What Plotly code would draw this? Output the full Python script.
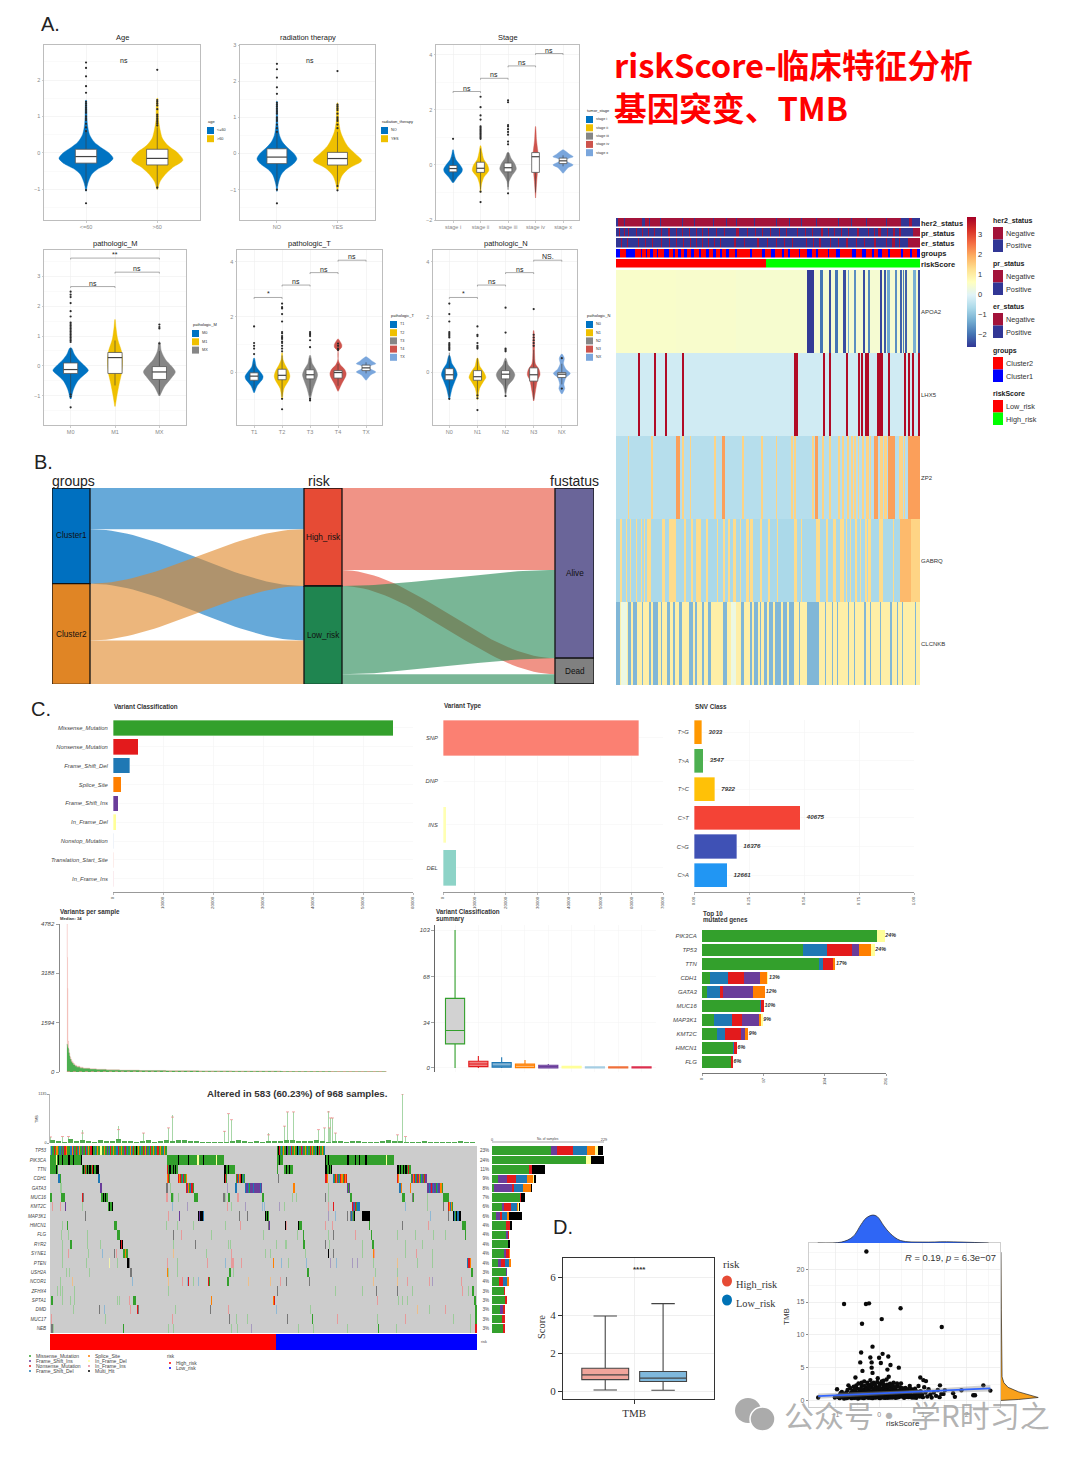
import plotly.graph_objects as go

W, H = 1080, 1457
SANS = "Liberation Sans"
SERIF = "Liberation Serif"
CJK = "Noto Sans CJK SC"
JCO = ["#0073C2", "#EFC000", "#868686", "#CD534C", "#7AA6DC"]

# ---------- panel A data: (label, y grid, density, half width, q1, med, q3, low, high, outliers)
BOWTIE_Y = [-.3, -.1, 0, .1, .15, .22, .3, .4, .55]
BOWTIE_D = [.03, .5, 1, .5, .3, .4, 1, .6, .05]
AGE = [
    ("<=60", [-1.05,-.85,-.6,-.45,-.3,-.15,0,.15,.3,.5,.8,1.2,1.45], [.01,.06,.2,.42,.8,1,.85,.55,.3,.13,.05,.03,.01], .38, -.28,-.1,.1,-.9,.6,
     [2.48,2.33,2.1,1.83,1.65,1.4,1.35,1.3,1.25,1.2,1.15,1.1,1.0,.95,.9,.8,.7,.6,-1.02,-1.38]),
    (">60", [-1,-.8,-.6,-.4,-.2,0,.2,.4,.6,.9,1.2,1.5], [.02,.1,.3,.6,1,.8,.42,.2,.12,.05,.04,.01], .36, -.33,-.15,.1,-1,.7,
     [2.28,1.45,1.4,1.35,1.3,1.2,1.05,1,.95,.9,.85,.8,.75,-.95]),
]
RADIATION = [
    ("NO", [-1.05,-.85,-.6,-.45,-.3,-.15,0,.15,.3,.5,.8,1.2,1.45], [.01,.06,.2,.42,.8,1,.85,.55,.3,.13,.05,.03,.01], .33, -.28,-.1,.13,-.9,.6,
     [2.48,2.33,2.1,1.83,1.65,1.4,1.35,1.3,1.25,1.2,1.15,1.1,1.0,.95,.9,.8,.7,.6,-1.0,-1.38]),
    ("YES", [-1,-.8,-.6,-.4,-.2,0,.2,.4,.6,.9,1.2,1.4], [.02,.08,.2,.5,1,.72,.42,.25,.13,.05,.04,.01], .4, -.32,-.14,.03,-.9,.6,
     [2.28,1.35,1.3,1.25,1.2,1.1,1.0,.95,.9,.8,.7,-.9,-1.02]),
]
STAGE = [
    ("stage i", [-.65,-.45,-.25,-.15,0,.2,.4,.55], [.05,.45,.95,1,.75,.3,.12,.03], .34, -.25,-.13,-.02,-.6,.3, [.95]),
    ("stage ii", [-1,-.7,-.45,-.2,0,.2,.5,.7], [.03,.12,.4,1,.85,.4,.15,.03], .3, -.27,-.12,.1,-.9,.6,
     [2.48,2.1,1.8,1.65,1.4,1.35,1.3,1.25,1.2,1.15,1.1,1.05,1,.95,-.97,-1.35]),
    ("stage iii", [-.9,-.6,-.4,-.15,.05,.25,.45], [.03,.12,.45,1,.8,.35,.08], .3, -.25,-.1,.07,-.8,.45,
     [2.35,2.28,1.45,1.4,1.3,1.2,1.1,.85,.75,-1.03]),
    ("stage iv", [-1.2,-.6,0,.2,.5,.9,1.4], [.02,.35,.8,1,.7,.3,.02], .12, -.27,.3,.45,-1,.45, []),
    ("stage x", BOWTIE_Y, BOWTIE_D, .37, .05,.15,.25,-.05,.35, []),
]
PATH_M = [
    ("M0", [-1.1,-.8,-.5,-.3,-.15,0,.2,.4,.6], [.03,.15,.4,.75,1,.8,.45,.2,.05], .4, -.25,-.12,.1,-.9,.6,
     [2.48,2.38,2.3,2.1,1.83,1.65,1.45,1.4,1.35,1.3,1.25,1.2,1.15,1.1,1.05,1,.95,.9,.85,.8,-.95,-1.02,-1.38]),
    ("M1", [-1.35,-1,-.6,-.2,.2,.5,.9,1.3,1.55], [.03,.25,.55,.9,1,.85,.35,.12,.02], .17, -.25,.28,.45,-.65,.85, []),
    ("MX", [-1,-.7,-.4,-.2,0,.2,.5,.8], [.03,.3,.75,1,.75,.4,.12,.03], .36, -.45,-.2,-.02,-.95,.5, [1.38,1.3,1.25,.75]),
]
PATH_T = [
    ("T1", [-.75,-.5,-.25,-.15,0,.2,.5], [.04,.35,.95,1,.7,.25,.04], .32, -.3,-.15,-.03,-.65,.3, [1.65,1.05,.95,.85,.65]),
    ("T2", [-1,-.6,-.3,-.15,.05,.25,.45,.7], [.03,.25,.85,1,.8,.4,.12,.02], .28, -.28,-.12,.1,-.9,.6,
     [2.48,2.35,2.3,2.1,1.83,1.45,1.4,1.3,1.25,1.2,1.1,1.05,.95,.85,.75,-.97,-1.35]),
    ("T3", [-1,-.6,-.3,-.1,.1,.3,.6], [.04,.4,.8,1,.75,.3,.05], .27, -.25,-.1,.08,-.85,.5, [1.45,1.4,1.35,1.3,1.15,.9,-.97,-1.03]),
    ("T4", [-.7,-.4,-.15,-.05,.1,.25,.45,.75,.9,1,1.2], [.03,.5,.95,1,.8,.3,.02,.02,.45,.45,.02], .29, -.22,-.02,.05,-.5,.3, [1.03,.95,.85,.8]),
    ("TX", BOWTIE_Y, BOWTIE_D, .35, .05,.15,.25,-.05,.35, []),
]
PATH_N = [
    ("N0", [-1,-.6,-.3,-.1,.1,.3,.6], [.04,.35,.75,1,.8,.35,.06], .28, -.28,-.1,.12,-.9,.7,
     [2.48,2.1,1.83,1.45,1.4,1.35,1.3,1.25,1.05,1,.95,.9,.85,.8,-.97]),
    ("N1", [-1,-.6,-.35,-.2,0,.2,.5], [.04,.25,.7,1,.75,.3,.05], .3, -.3,-.17,.05,-.8,.5,
     [1.65,1.35,1.3,1.05,.95,.9,.85,-.85,-.95,-1.38]),
    ("N2", [-.85,-.5,-.25,-.1,.05,.25,.5], [.03,.25,.85,1,.8,.3,.03], .33, -.25,-.08,.05,-.75,.4, [2.33,1.43,.85,.8,.75,-.87]),
    ("N3", [-1.05,-.7,-.3,-.1,.1,.3,.7,1,1.5], [.03,.25,.55,.9,.75,.25,.12,.12,.02], .25, -.33,-.1,.15,-1,.8, [2.28,1.35,1.25,1.15,1.05,.95]),
    ("NX", [-.8,-.6,-.45,-.2,-.05,.1,.3,.5,.65], [.03,.35,.25,.5,1,.5,.2,.3,.03], .3, -.2,-.08,-.02,-.45,.3, [.5,-.6]),
]

# ---------- panel B data
FLOWS_LEFT = [("Cluster1","High_risk",41.3), ("Cluster1","Low_risk",54.7), ("Cluster2","High_risk",57), ("Cluster2","Low_risk",44)]
FLOWS_RIGHT = [("High_risk","Alive",82.3), ("High_risk","Dead",16), ("Low_risk","Alive",88.4), ("Low_risk","Dead",9.9)]
NODE_COLORS = {"Cluster1":"#0070C0","Cluster2":"#E08525","High_risk":"#E64B35","Low_risk":"#1F8550","Alive":"#6A6599","Dead":"#808080"}

# ---------- heatmap data: (first column, last column, z)
N_HEAT = 304
GENES = ["APOA2","LHX5","ZP2","GABRQ","CLCNKB"]
APOA2_BASE = [(0,60,.48),(60,120,.45),(120,190,.42),(190,304,.38)]
APOA2_STRIPES = [(191,198,-2.6),(204,207,-2),(213,215,-2.4),(219,222,-2),(227,230,-2.4),(232,233,-1.4),(238,240,-1.7),
                 (247,249,-2.4),(252,254,-1.8),(264,266,-2.5),(268,270,-2.3),(271,274,-1.4),(279,281,-1.7),(284,286,-2.2),
                 (287,288,-1.9),(289,291,-2.2),(297,300,-1.3),(302,304,-2.4)]
LHX5_STRIPES = [22,38,49,66,178,180,207,213,230,242,245,249,251,261,263,265,272,288,292,296,302]
ZP2_THIN = [(12,13),(35,37),(66,68),(74,75),(98,100),(126,128),(145,147),(160,161),(175,177),(178,180),(196,198),(206,208),(213,215),
            (222,224),(226,228),(231,233),(235,237),(238,240),(242,243),(246,248),(250,253),(254,255),(264,267),(268,271),(283,287),(288,289)]
ZP2_STRONG = [(60,64),(106,109),(199,202),(258,262),(272,279),(292,304)]
GABRQ_THIN = [(4,6),(10,11),(14,15),(20,21),(25,26),(28,29),(31,35),(46,49),(53,60),(68,70),(75,77),(80,85),(90,92),(101,102),(107,109),
              (112,114),(117,120),(124,125),(130,133),(134,137),(144,146),(152,154),(161,162),(178,181),(185,186),(200,204),(210,212),(217,220),
              (224,228),(230,231),(234,235),(239,241),(244,245),(249,251),(252,255),(263,267),(277,278)]
GABRQ_STRONG = [(284,295)]
GABRQ_PALE = [(295,304)]
CLCNKB_BLUE = [(0,4),(12,15),(17,21),(26,27),(33,35),(37,42),(45,46),(51,54),(57,59),(63,66),(73,77),(79,81),(86,88),(92,95),(107,111),(125,128),
               (134,136),(138,142),(144,145),(148,151),(153,157),(159,165),(167,171),(173,178),(183,184),(191,203),(209,210),(216,217),(221,222),
               (232,233),(238,239),(248,250),(254,255),(264,265),(274,276),(281,282),(286,287),(299,300)]
CLCNKB_PALE = [(5,11),(115,120)]
HER2_POS = [(0,2),(8,9),(26,29),(33,34),(44,45),(66,67),(78,79),(97,98),(110,111),(120,121),(138,139),(160,161),(173,174),(185,186),(200,201),(222,223),(235,236),(250,251),(270,271),(285,293),(296,304)]
PR_NEG = [(3,4),(8,9),(12,13),(20,21),(26,27),(32,33),(38,39),(45,46),(52,54),(60,61),(66,67),(73,74),(80,81),(86,87),(92,93),(100,101),(108,109),(120,123),(131,132),(139,140),(146,147),(154,155),(163,164),(170,171),(181,182),(189,190),(196,197),
          (205,207),(212,213),(218,219),(225,226),(232,233),(241,243),(252,253),(258,259),(262,265),(271,272),(277,279),(283,285),(297,304)]
ER_NEG = [(5,6),(11,12),(22,23),(29,30),(36,37),(45,46),(53,54),(60,61),(67,68),(74,75),(80,81),(86,87),(92,93),(98,99),(104,105),(118,120),(128,129),(141,143),(151,152),(160,161),(168,169),(176,177),(190,191),(197,198),(203,205),(214,215),
          (222,223),(230,232),(240,241),(248,249),(258,260),(270,271),(276,279),(283,284),(292,304)]
GROUP_C1 = [(0,4),(10,19),(25,26),(30,31),(34,37),(41,42),(48,53),(57,59),(62,65),(68,71),(75,78),(83,85),(90,93),(97,100),(104,106),(110,113),(119,121),
            (134,136),(146,149),(155,159),(166,168),(172,174),(183,184),(191,196),(200,202),(212,213),(220,224),(236,240),(246,250),(256,258),(262,266),(272,274),(285,287),(294,296),(301,304)]
RISK_SPLIT = 150
TRACK_NAMES = ["her2_status","pr_status","er_status","groups","riskScore"]

# ---------- panel C data
VC_NAMES = ["Missense_Mutation","Nonsense_Mutation","Frame_Shift_Del","Splice_Site","Frame_Shift_Ins","In_Frame_Del","Nonstop_Mutation","Translation_Start_Site","In_Frame_Ins"]
VC_VALUES = [56000,5000,3300,1600,1000,600,150,150,120]
VC_COLORS = ["#33A02C","#E31A1C","#1F78B4","#FF7F00","#6A3D9A","#FFFF99","#D9E4F2","#F7D5CF","#F5D3DA"]
VT_NAMES = ["SNP","DNP","INS","DEL"]
VT_VALUES = [62300,40,1100,4200]
VT_COLORS = ["#FB8072","#BEBADA","#FFFFB3","#8DD3C7"]
SNV_NAMES = ["T>G","T>A","T>C","C>T","C>G","C>A"]
SNV_COUNTS = [3033,3547,7922,40675,16376,12661]
SNV_FRACTION = [.036,.042,.094,.483,.194,.150]
SNV_COLORS = ["#FF9800","#4CAF50","#FFC107","#F44336","#3F51B5","#2196F3"]
SAMPLE_RANK = [1,2,3,4,6,8,10,13,16,20,25,30,40,50,70,90,120,160,220,300,400,500,650,800,968]
SAMPLE_TOTAL = [4782,3700,2700,1000,720,600,480,400,330,270,220,190,155,130,105,90,75,62,50,42,34,28,20,14,6]
SAMPLE_MISSENSE = [900,860,800,760,620,520,410,330,280,225,185,155,125,105,85,72,60,50,40,33,27,22,16,11,4]
SUMMARY_CLASSES = VC_NAMES
SUMMARY_Q1 = [18,1,.5,.3,0,0,0,0,0]
SUMMARY_MED = [28,3,1.5,2,1,.5,.3,.3,.3]
SUMMARY_Q3 = [52,5,4,3,2,1.2,.8,.8,.8]
SUMMARY_LOW = [0,0,0,0,0,0,0,0,0]
SUMMARY_HIGH = [103,9,8,6,3,1.2,.8,.8,.8]
SUMMARY_COLORS = ["#33A02C","#E31A1C","#1F78B4","#FF7F00","#6A3D9A","#FFFF99","#A6CEE3","#F0703A","#DC2F4E"]
CLASS_COLORS = {"G":"#33A02C","P":"#6A3D9A","R":"#E31A1C","B":"#1F78B4","O":"#FF7F00","Y":"#FFFF99","K":"#000000"}
TOP_GENES = ["PIK3CA","TP53","TTN","CDH1","GATA3","MUC16","MAP3K1","KMT2C","HMCN1","FLG"]
TOP_PCT = ["24%","24%","17%","13%","12%","10%","9%","9%","6%","6%"]
TOP_G = [277,160,185,13,8,91,19,23,49,46]
TOP_B = [0,38,7,28,21,2,28,14,1,0]
TOP_R = [0,39,15,26,4,5,16,24,5,3]
TOP_P = [0,12,0,24,48,0,27,7,0,0]
TOP_O = [0,19,4,12,19,0,4,4,0,0]
TOP_Y = [12,5,0,2,0,0,2,1,0,0]

# ---------- oncoplot data
ONCO_GENES = ["TP53","PIK3CA","TTN","CDH1","GATA3","MUC16","KMT2C","MAP3K1","HMCN1","FLG","RYR2","SYNE1","PTEN","USH2A","NCOR1","ZFHX4","SPTA1","DMD","MUC17","NEB"]
ONCO_PCT = ["23%","24%","11%","9%","8%","7%","6%","6%","4%","4%","4%","4%","4%","3%","4%","3%","3%","3%","3%","3%"]
ONCO_TOTAL_COLS = 427
ONCO_RISK_SPLIT = 226
TP53_RUNS = [(0,"gBGGRGOOGBBGPGRROGGGBBOPGGRGBOGGPGGRBGOGRRKGGBGOGGYYGGOGGPGBRGGOGGBBRGGOGGPRGBGGOBGRGGKGOGBGGRGOPGGBRGGOGBGRRGOGGBOGG"),
             (227,"GKRGBGOGGKPGGBRGGOGGKBGGRPGGOGBGGRGOGGBGKGRGGOGB")]
PIK3CA_RUNS = [(0,"GGGGGGYGKGGGKGGGGGKKGGGKGGGGGGGK"),(117,"GGGGGGGGGGGKGGGGGGGGGKGGGGGGGGYYGGGGKGGGGGGGGGGGGYGGGGGGG"),(227,"GGKGGG"),
               (275,"KGGKGGGGGGGGGGGGGGGGGGKKGGGGGGKGGGKGGGGGKKGGGGGGGGGGGGGGGGGGGYGGGGGGG")]
TTN_RUNS = [(0,"GGGGGGKG"),(32,"GKGRGKGKKGRKGGKKK"),(117,"RGKKGGKGKGG"),(174,"KKGGKGGGGGG"),(227,"G"),(234,"GGKGGKGGG"),(275,"KKGGKGK"),(347,"KKGKGGKGKKGRGG")]
CDH1_RUNS = [(8,"BBG"),(48,"BB"),(117,"ORG"),(128,"RORGBRGGO"),(174,"KRG"),(186,"GRBORKGBG"),(228,"k"),(275,"RRO"),(283,"BGROPGBROOGROR"),(347,"RO"),(361,"GPORBGRPOGBPGRPP")]
GATA3_RUNS = [(10,"gg"),(50,"PP"),(116,"kk"),(120,"g"),(136,"RPOGBRRG"),(177,"p"),(185,"BB"),(195,"BPPBGPPPBPPPPPPBP"),(243,"OO"),(278,"g"),(297,"PGP"),(349,"BBO"),(360,"O"),(377,"PPBPRPBPPGBPPOOG")]
MUC16_RUNS = [(0,"GG"),(11,"GGGG"),(32,"Rk"),(51,"GGKGKGG"),(116,"rr"),(121,"GGg"),(128,"g"),(144,"GGGG"),(173,"kkg"),(178,"GG"),(187,"rr"),(212,"GG"),(242,"g"),(246,"g"),(275,"k"),(278,"g"),(300,"GG"),(352,"GGG"),(362,"kG"),(377,"g"),(393,"GGGGGG")]
KMT2C_RUNS = [(2,"r"),(10,"r"),(15,"P"),(32,"g"),(58,"GKGGK"),(122,"b"),(137,"p"),(177,"r"),(181,"g"),(195,"p"),(212,"b"),(214,"b"),(229,"p"),(234,"g"),(278,"r"),(283,"R"),(302,"RPBRGBBB"),(355,"b"),(377,"g"),(393,"k"),(398,"ROBOG")]
MAP3K1_RUNS = [(35,"k"),(118,"r"),(129,"P"),(148,"KPKKKB"),(189,"k"),(197,"k"),(215,"KGKG"),(278,"p"),(285,"b"),(297,"k"),(300,"kBkGK"),(312,"KKKKKKKK"),(380,"b"),(398,"k"),(403,"KBGKBBKK")]
HMCN1_RUNS = [(12,"g"),(17,"G"),(64,"GGG"),(116,"g"),(127,"g"),(143,"g"),(175,"g"),(190,"r"),(218,"kP"),(235,"Kr"),(248,"KGGG"),(275,"r"),(282,"r"),(319,"G"),(352,"k"),(378,"r"),(412,"GGGG")]
FLG_RUNS = [(11,"g"),(18,"g"),(37,"g"),(67,"GGG"),(123,"k"),(131,"r"),(161,"g"),(213,"g"),(247,"g"),(253,"G"),(283,"k"),(278,"g"),(305,"r"),(321,"G"),(347,"g"),(365,"g"),(383,"g"),(395,"g"),(415,"G")]
RYR2_RUNS = [(12,"g"),(20,"GG"),(37,"g"),(50,"g"),(70,"KRK"),(123,"g"),(145,"k"),(178,"g"),(180,"g"),(226,"g"),(235,"gg"),(253,"GG"),(275,"k"),(279,"g"),(312,"g"),(322,"GG"),(355,"g"),(372,"g")]
SYNE1_RUNS = [(12,"g"),(18,"r"),(38,"g"),(52,"b"),(64,"k"),(66,"r"),(73,"GGOGG"),(123,"o"),(156,"g"),(181,"r"),(215,"g"),(220,"g"),(255,"g"),(278,"K"),(283,"k"),(312,"g"),(323,"Or"),(355,"g"),(366,"r"),(382,"g")]
PTEN_RUNS = [(12,"g"),(36,"g"),(59,"y"),(67,"g"),(77,"KKk"),(117,"r"),(127,"g"),(157,"r"),(175,"b"),(181,"rrr"),(191,"r"),(223,"O"),(231,"b"),(238,"g"),(256,"b"),(280,"p"),(286,"b"),(302,"p"),(307,"p"),(323,"g"),(347,"o"),(367,"g"),(382,"g"),(417,"BRRO")]
USH2A_RUNS = [(16,"g"),(19,"g"),(39,"g"),(80,"kk"),(117,"Og"),(127,"g"),(179,"GG"),(183,"g"),(257,"GG"),(325,"g"),(347,"g"),(421,"GG")]
NCOR1_RUNS = [(10,"g"),(22,"o"),(82,"b"),(118,"o"),(132,"r"),(137,"bR"),(143,"g"),(148,"b"),(158,"RG"),(177,"GG"),(198,"o"),(220,"o"),(230,"r"),(236,"k"),(259,"k"),(323,"o"),(347,"o"),(357,"r"),(379,"r"),(382,"p"),(411,"r")]
ZFHX4_RUNS = [(7,"g"),(10,"g"),(12,"g"),(24,"g"),(118,"g"),(227,"k"),(285,"g"),(312,"g"),(326,"k"),(347,"k"),(362,"g"),(412,"r"),(418,"g"),(422,"GG")]
SPTA1_RUNS = [(1,"GG"),(12,"g"),(20,"g"),(24,"g"),(67,"g"),(69,"g"),(79,"r"),(83,"GGG"),(161,"O"),(223,"OR"),(327,"r"),(348,"g"),(352,"g"),(357,"g"),(424,"GG")]
DMD_RUNS = [(23,"g"),(49,"k"),(54,"b"),(80,"r"),(87,"Rk"),(125,"g"),(160,"k"),(178,"r"),(226,"b"),(260,"g"),(367,"o"),(379,"g"),(395,"r"),(425,"GG")]
MUC17_RUNS = [(1,"r"),(55,"g"),(122,"r"),(179,"k"),(186,"g"),(197,"g"),(237,"k"),(262,"G"),(287,"r"),(327,"g"),(355,"r"),(403,"g"),(420,"g"),(425,"GG")]
NEB_RUNS = [(1,"kk"),(3,"g"),(73,"G"),(118,"g"),(123,"g"),(181,"g"),(187,"g"),(201,"p"),(248,"g"),(263,"g"),(297,"g"),(328,"G"),(346,"g"),(420,"g"),(425,"RRR")]
ONCO_ROWS = [TP53_RUNS,PIK3CA_RUNS,TTN_RUNS,CDH1_RUNS,GATA3_RUNS,MUC16_RUNS,KMT2C_RUNS,MAP3K1_RUNS,HMCN1_RUNS,FLG_RUNS,RYR2_RUNS,SYNE1_RUNS,PTEN_RUNS,USH2A_RUNS,NCOR1_RUNS,ZFHX4_RUNS,SPTA1_RUNS,DMD_RUNS,MUC17_RUNS,NEB_RUNS]
ONCO_CODES = " GPRBOYKgprboyk"
ONCO_COLORS = ["#CCCCCC","#33A02C","#6A3D9A","#E31A1C","#1F78B4","#FF7F00","#FFFF99","#000000","#9CCB9A","#A79ABF","#E79A9A","#8FB8D4","#EDBE8A","#F3F3B0","#777777"]
SIDE_G = [121,193,76,12,5,58,20,8,29,29,32,25,13,28,14,24,26,16,20,23]
SIDE_P = [12,0,0,18,36,0,5,8,0,3,0,3,5,2,0,0,0,6,1,0]
SIDE_R = [33,0,5,19,4,2,14,4,7,2,1,6,9,0,9,2,5,4,5,3]
SIDE_B = [29,0,0,22,19,0,12,11,0,0,0,0,7,0,7,0,0,0,0,0]
SIDE_O = [16,0,0,13,16,0,3,3,0,0,0,2,5,0,5,0,0,0,0,0]
SIDE_Y = [5,10,0,1,0,0,1,0,0,0,0,0,0,0,0,0,0,0,0,0]
SIDE_K = [10,26,28,5,1,8,3,27,5,1,3,0,0,0,0,1,0,0,0,1]
TMB_BASE = [60,40,30,85,45,70,40,30,60,40,50,85,35,45,30,45,60,30,50,70,40,60,75,55,45,30,20,30,25,20,40,60,50,25,40,30,35,45,55,80,60,50,
            40,55,60,45,30,50,40,25,35,45,30,25,30,45,60,40,35,25,20,30,40,25,30,25,20,30,35,25,20]
TMB_SPIKE_COL = [0,12,18,32,68,93,118,122,174,178,181,218,234,237,243,268,274,278,282,279,280,347,352,355,285]
TMB_SPIKE_VAL = [140,150,150,230,310,230,350,600,270,680,540,190,390,720,720,310,350,720,580,350,580,190,1135,150,230]

# ---------- panel D data
BOX_D_LABELS = ["High_risk","Low_risk"]
BOX_D_Q1 = [.6,.5]; BOX_D_MED = [.85,.68]; BOX_D_Q3 = [1.2,1.03]; BOX_D_LOW = [.05,.04]; BOX_D_HIGH = [3.95,4.6]
SCATTER_HIGH = [(-.29,22.7),(-.8,14.7),(-.3,14.7),(-.23,14.8),(.49,14.06),(.06,12.4),(-.39,11.7),(1.43,11.2),(-.15,8.2),(-.41,7.3),(.08,7.1),(.21,6.7),
                (-.2,6.55),(0,6.5),(-.43,5.8),(-.17,5.8),(.04,5.7),(.26,5.4),(-.17,5),(.45,5),(.19,4.7),(-.38,4.5),(-.15,4.2),(-.54,3.5),(.94,3.5),(1.01,3.1),
                (1.07,2.95),(1.39,2.3),(2.38,2.3),(2.54,1.5),(1.5,1.55),(1.69,1.1),(1.88,1.55),(1.73,.55),(2.15,.8),(2.19,.8),(1.47,1),(-1.39,.45),(-1.01,.45),(-.96,1.7)]
SCATTER_CLOUD = [(-.95,.6),(-.9,.35),(-.88,1.1),(-.85,.5),(-.82,.9),(-.8,.3),(-.78,.7),(-.75,1.2),(-.72,.4),(-.7,.8),(-.7,2.3),(-.68,.5),(-.66,1.9),(-.65,1.1),(-.63,.35),
                 (-.6,.7),(-.6,1.5),(-.58,2.1),(-.56,.45),(-.55,1),(-.53,1.3),(-.5,.6),(-.5,1.8),(-.48,.3),(-.47,2.6),(-.45,.9),(-.44,1.4),(-.42,.5),(-.4,1.1),(-.4,2.2),
                 (-.38,.7),(-.36,1.6),(-.35,.35),(-.34,2.9),(-.32,1),(-.3,.5),(-.3,1.9),(-.28,1.3),(-.27,.8),(-.25,.4),(-.25,2.4),(-.24,1.6),(-.22,1),(-.2,.6),(-.2,3.1),
                 (-.19,1.4),(-.18,2),(-.16,.8),(-.15,.35),(-.14,1.2),(-.12,2.7),(-.12,.6),(-.1,1.6),(-.1,1),(-.08,2.2),(-.07,.45),(-.05,.8),(-.05,1.3),(-.03,3.4),(-.02,1.9),
                 (0,.6),(0,1.1),(.02,.35),(.02,2.5),(.04,1.5),(.05,.9),(.07,.5),(.08,1.2),(.1,2),(.1,3),(.12,.7),(.14,1.4),(.15,.4),(.17,1),(.18,2.4),(.2,.6),(.2,1.7),
                 (.22,3.6),(.24,1.1),(.25,.45),(.27,.8),(.28,2),(.3,1.4),(.32,.55),(.33,2.7),(.35,1),(.37,.4),(.38,1.7),(.4,.75),(.42,2.2),(.44,1.2),(.45,.5),(.47,.9),
                 (.5,1.6),(.5,2.6),(.52,.6),(.55,1.1),(.57,.4),(.6,1.9),(.62,.8),(.65,1.3),(.67,.5),(.7,2.2),(.72,.95),(.75,.45),(.78,1.4),(.8,.7),(.82,1.8),(.85,.4),
                 (.88,1.1),(.9,2.2),(.93,.6),(.95,1.4),(.98,.9),(1,.5),(1.03,2),(1.06,1.2),(1.1,.6),(1.13,1.7),(1.17,.9),(1.2,.45),(1.25,1.2),(1.3,.7),(1.34,1.6),
                 (1.38,.5),(1.42,1),(-.6,.4),(-.55,.4),(-.45,.4),(-.35,.6),(-.3,.9),(-.25,.7),(-.2,.4),(-.15,.6),(-.1,.45),(-.05,.55),(0,.4),(.05,.5),(.1,.45),(.15,.7),
                 (.2,.4),(.25,.65),(.3,.45),(.35,.7),(-.5,.9),(-.4,.75),(-.3,1.2),(-.2,1),(-.1,.8),(0,.85),(.1,.85),(.2,1),(.3,.9),(.4,1.1),(-.45,1.2),(-.35,1),(-.25,1.1),
                 (-.15,1),(-.05,1),(.05,1.2),(.15,1.2),(.25,1.3),(.35,1.2),(-.7,.55),(-.8,.55),(-.6,.55),(.45,.7),(.55,.7),(.6,.5),(.7,.6),(.8,.45)]
SCATTER_DENSE = [(-.9,.75),(-.85,1.3),(-.75,.35),(-.72,1.6),(-.65,.8),(-.62,1.3),(-.55,1.7),(-.52,2.3),(-.48,1.1),(-.42,1.75),(-.4,2.7),(-.37,1.3),(-.33,2.2),(-.28,1.7),(-.27,2.7),(-.23,1.35),
                 (-.22,2.15),(-.18,1.2),(-.17,2.5),(-.13,1.75),(-.11,2.4),(-.09,1.35),(-.06,1.8),(-.04,2.8),(-.02,1.5),(.01,2.2),(.03,1.3),(.03,1.8),(.06,2.9),(.07,1.6),(.09,2.5),(.11,1.3),(.13,1.85),
                 (.14,2.2),(.16,1.55),(.17,3.2),(.19,1.25),(.21,2.1),(.23,1.5),(.25,2.55),(.27,1.2),(.29,1.75),(.31,2.3),(.33,1.1),(.35,1.6),(.37,2),(.39,1.3),(.41,2.6),(.43,.95),(.46,1.5),(.48,2),
                 (.51,1.3),(.53,1.85),(.56,.9),(.58,1.5),(.61,1.15),(.63,.55),(.66,1.7),(.69,.85),(.71,1.25),(.74,1.7),(.77,.65),(.81,1.05),(.84,1.45),(.87,.7),(.91,1.3),(.94,.95),
                 (-.92,.5),(-.87,.9),(-.77,1),(-.74,.55),(-.67,.65),(-.64,.95),(-.59,.9),(-.57,1.2),(-.49,.45),(-.46,.7),(-.43,.55),(-.39,.4),(-.33,.45),(-.29,.7),(-.26,.55),(-.23,.75),(-.17,.5),
                 (-.13,.85),(-.09,.6),(-.04,.7),(.01,.75),(.03,.55),(.08,.65),(.12,.45),(.16,.6),(.22,.75),(.26,.55),(.31,.65),(.36,.55),(.41,.45)]
FIT_X = [-1.39,2.54]; FIT_Y = [.65,1.85]; FIT_BAND = [.4,.25,.5]
TOP_DENS_X = [-1.4,-.86,-.6,-.41,-.3,-.15,-.04,.11,.26,.49,1.0,1.54,2.5]
TOP_DENS_Y = [0,3,20,60,80,90,85,55,30,8,3,4,0]
RIGHT_DENS_Y = [0,.15,.45,1.3,2,2.7,3.6,6.6,13.8,22.6]
RIGHT_DENS_X = [0,50,105,50,20,8,3,2,1,0]

# ---------- helpers
traces, shapes, annotations, layout = [], [], [], {}
_axis_id = [1]

def T(x, y, text, size, color="#000", anchor="left", font=SANS, weight=None, style=None, angle=0):
    f = dict(size=size, color=color, family=font)
    if weight: f["weight"] = weight
    if style: f["style"] = style
    annotations.append(dict(xref="paper", yref="paper", x=x/W, y=1-y/H, text=text, showarrow=False, font=f,
                            xanchor=anchor, yanchor="middle", textangle=angle, borderpad=0, align="left"))

def rect(x0, y0, x1, y1, color, line=None):
    shapes.append(dict(type="rect", xref="paper", yref="paper", x0=x0/W, x1=x1/W, y0=1-y1/H, y1=1-y0/H,
                       fillcolor=color, line=dict(width=0) if line is None else line))

def axes(x0, y0, x1, y1, xr, yr, xopts=None, yopts=None):
    _axis_id[0] += 1
    n = _axis_id[0]
    base = dict(showgrid=False, zeroline=False, showline=False, ticks="", fixedrange=True, showticklabels=False, automargin=False)
    xd = dict(base, domain=[x0/W, x1/W], range=xr, anchor=f"y{n}", type="linear")
    yd = dict(base, domain=[1-y1/H, 1-y0/H], range=yr, anchor=f"x{n}", type="linear")
    xd.update(xopts or {}); yd.update(yopts or {})
    layout[f"xaxis{n}"] = xd; layout[f"yaxis{n}"] = yd
    return f"x{n}", f"y{n}"

def add(tr, xa, ya):
    tr.update(xaxis=xa, yaxis=ya, hoverinfo="skip", showlegend=False)
    traces.append(tr)

def box(xa, ya, pos, q1, med, q3, lo, hi, width, fill, line, lw=.8, whisk=0.0):
    add(go.Box(x=[pos], q1=[q1], median=[med], q3=[q3], lowerfence=[lo], upperfence=[hi], width=width, fillcolor=fill,
               line=dict(color=line, width=lw), whiskerwidth=whisk, boxpoints=False), xa, ya)

def violin_panel(rect_px, xr, yr, yticks, yminor, rows, box_w, title, title_x, brackets=(), legend=None):
    x0, y0, x1, y1 = rect_px
    grid = dict(showgrid=True, gridcolor="#EEEEEE", gridwidth=.6, showline=True, linecolor="#BDBDBD", linewidth=1, mirror=True,
                showticklabels=True, tickfont=dict(size=5.5, color="#888", family=SANS), ticks="outside", ticklen=1.5, tickwidth=.5, tickcolor="#999")
    xa, ya = axes(x0, y0, x1, y1, xr, yr,
                  dict(grid, tickvals=list(range(1, len(rows)+1)), ticktext=[r[0] for r in rows]),
                  dict(grid, tickvals=yticks, ticktext=[str(v).replace("-", "\u2212") for v in yticks],
                       minor=dict(tickvals=yminor, showgrid=True, gridcolor="#F5F5F5", gridwidth=.5)))
    for i, r in enumerate(rows):
        pos = i+1
        label, ys, ds, hw, q1, med, q3, lo, hi, out = r
        c = JCO[i]
        xs = [pos-d*hw for d in ds] + [pos+d*hw for d in reversed(ds)]
        add(go.Scatter(x=xs, y=list(ys)+list(reversed(ys)), mode="lines", fill="toself", fillcolor=c, line=dict(color=c, width=.4, shape="spline", smoothing=.8)), xa, ya)
        add(go.Scatter(x=[pos, pos], y=[lo, hi], mode="lines", line=dict(color="#3a3a3a", width=.6)), xa, ya)
        bl, br = pos-box_w/2, pos+box_w/2
        add(go.Scatter(x=[bl, br, br, bl, bl], y=[q1, q1, q3, q3, q1], mode="lines", fill="toself", fillcolor="white", line=dict(color="#555", width=.8)), xa, ya)
        add(go.Scatter(x=[bl, br], y=[med, med], mode="lines", line=dict(color="#444", width=1.2)), xa, ya)
        if out:
            add(go.Scatter(x=[pos]*len(out), y=out, mode="markers", marker=dict(size=2.2, color="#2a2a2a")), xa, ya)
    for a, b, yv, txt in brackets:
        tip = (yr[1]-yr[0])*.008
        add(go.Scatter(x=[a, a, b, b], y=[yv-tip, yv, yv, yv-tip], mode="lines", line=dict(color="#888", width=.7)), xa, ya)
        annotations.append(dict(xref=xa, yref=ya, x=(a+b)/2, y=yv, text=txt, showarrow=False, yanchor="bottom", xanchor="center",
                                font=dict(size=7, color="#222", family=SANS), borderpad=0, yshift=-1))
    T(title_x, y0-7, title, 7.5, "#222", "center")
    if legend:
        lx, ly, ltitle, labels, dy = legend
        T(lx, ly, ltitle, 4, "#222")
        for i, lab in enumerate(labels):
            yk = ly+5+i*dy
            rect(lx, yk, lx+7, yk+7, JCO[i])
            T(lx+9, yk+3.5, lab, 3.8, "#333")

# ---------- page text
T(40, 24, "A.", 20, "#222"); T(33, 462, "B.", 20, "#222"); T(30, 709, "C.", 20, "#222"); T(552, 1227, "D.", 20, "#222")
T(613, 63, "riskScore-\u4e34\u5e8a\u7279\u5f81\u5206\u6790", 32.7, "#FF0000", font=CJK, weight=700)
T(613, 106, "\u57fa\u56e0\u7a81\u53d8\u3001TMB", 32.7, "#FF0000", font=CJK, weight=700)

# ---------- panel A
violin_panel((44,45,200,220), [.41,2.6], [-1.84,2.96], [-1,0,1,2], [-1.5,-.5,.5,1.5,2.5], AGE, .3, "Age", 122,
             legend=(207,122,"age",["<=60",">60"],8.2))
T(124, 60, "ns", 7, "#222", "center")
violin_panel((240,45,375,220), [.39,2.62], [-1.84,3], [-1,0,1,2,3], [-1.5,-.5,.5,1.5,2.5], RADIATION, .33, "radiation therapy", 308,
             legend=(381,122,"radiation_therapy",["NO","YES"],8.2))
T(310, 61, "ns", 7, "#222", "center")
br5 = [(1,2,2.67,"ns"),(2,3,3.15,"ns"),(3,4,3.6,"ns"),(4,5,4.05,"ns")]
violin_panel((436,45,579,220), [.38,5.58], [-2,4.36], [-2,0,2,4], [-1,1,3], STAGE, .28, "Stage", 508, br5,
             legend=(586,111,"tumor_stage",[r[0] for r in STAGE],8.3))
violin_panel((44,250,186,425), [.4,3.6], [-1.97,3.87], [-1,0,1,2,3], [-1.5,-.5,.5,1.5,2.5,3.5], PATH_M, .32, "pathologic_M", 115,
             [(1,2,2.65,"ns"),(2,3,3.13,"ns"),(1,3,3.6,"**")], legend=(192,325,"pathologic_M",[r[0] for r in PATH_M],8.3))
violin_panel((237,250,382,425), [.39,5.57], [-1.92,4.42], [0,2,4], [-1,1,3], PATH_T, .29, "pathologic_T", 309,
             [(1,2,2.7,"*"),(2,3,3.15,"ns"),(3,4,3.6,"ns"),(4,5,4.05,"ns")], legend=(390,316,"pathologic_T",[r[0] for r in PATH_T],8.2))
violin_panel((433,250,577,425), [.42,5.54], [-1.92,4.42], [0,2,4], [-1,1,3], PATH_N, .29, "pathologic_N", 506,
             [(1,2,2.7,"*"),(2,3,3.15,"ns"),(3,4,3.6,"ns"),(4,5,4.05,"NS.")], legend=(586,316,"pathologic_N",[r[0] for r in PATH_N],8.2))

# ---------- panel B
xa, ya = axes(52, 488, 594, 684, [0,542], [196.6,0])
def alpha(hexc, a=.6):
    r, g, b = int(hexc[1:3],16), int(hexc[3:5],16), int(hexc[5:7],16)
    return f"rgba({r},{g},{b},{a})"
def node_positions(names, flows, idx):
    pos, cur = {}, 0.0
    for n in names:
        total = sum(f[2] for f in flows if f[idx] == n)
        pos[n] = (cur, cur+total); cur += total
    return pos
COLS = [(0,38),(252,290),(503,542)]
left = node_positions(["Cluster1","Cluster2"], FLOWS_LEFT, 0)
mid = node_positions(["High_risk","Low_risk"], FLOWS_LEFT, 1)
right = node_positions(["Alive","Dead"], FLOWS_RIGHT, 1)
def ribbons(flows, src, dst, xs, xe):
    so = {k: v[0] for k, v in src.items()}; to = {k: v[0] for k, v in dst.items()}
    for a, b, v in flows:
        s0, s1, t0, t1 = so[a], so[a]+v, to[b], to[b]+v
        so[a] += v; to[b] += v
        ts = [k/40 for k in range(41)]
        sm = [t*t*(3-2*t) for t in ts]
        px = [xs+(xe-xs)*t for t in ts]
        top = [s0+(t0-s0)*m for m in sm]
        bot = [s1+(t1-s1)*m for m in sm]
        add(go.Scatter(x=px+px[::-1], y=top+bot[::-1], mode="lines", fill="toself", fillcolor=alpha(NODE_COLORS[a]), line=dict(width=0)), xa, ya)
ribbons(FLOWS_LEFT, left, mid, COLS[0][1], COLS[1][0])
ribbons(FLOWS_RIGHT, mid, right, COLS[1][1], COLS[2][0])
for col, group in zip(COLS, [left, mid, right]):
    for name, (a, b) in group.items():
        add(go.Scatter(x=[col[0],col[1],col[1],col[0],col[0]], y=[a,a,b,b,a], mode="lines", fill="toself", fillcolor=NODE_COLORS[name],
                       line=dict(color="#111", width=1.3)), xa, ya)
        annotations.append(dict(xref=xa, yref=ya, x=(col[0]+col[1])/2, y=(a+b)/2, text=name, showarrow=False, xanchor="center", font=dict(size=8.2, color="#111", family=SANS)))
T(73, 481, "groups", 14, "#222", "center"); T(319, 481, "risk", 14, "#222", "center"); T(574, 481, "fustatus", 14, "#222", "center")

# ---------- heatmap
def paint(row, spans, v=None):
    for s in spans:
        a, b = s[0], s[1]
        val = s[2] if v is None else v
        for c in range(a, b):
            row[c] = val
rows = [[0.0]*N_HEAT for _ in GENES]
paint(rows[0], APOA2_BASE); paint(rows[0], APOA2_STRIPES)
rows[1] = [-.25]*N_HEAT
for c in LHX5_STRIPES:
    rows[1][c] = 3.7
    rows[1][min(c+1, N_HEAT-1)] = 3.7
rows[2] = [-.57]*N_HEAT; paint(rows[2], ZP2_THIN, 1.4); paint(rows[2], ZP2_STRONG, 2.05)
rows[3] = [-.7]*N_HEAT; paint(rows[3], GABRQ_THIN, 1.3); paint(rows[3], GABRQ_STRONG, 1.75); paint(rows[3], GABRQ_PALE, 1.4)
rows[4] = [.93]*N_HEAT; paint(rows[4], CLCNKB_BLUE, -1.2); paint(rows[4], CLCNKB_PALE, .2)
xa, ya = axes(616, 270, 920, 685, [-.5,N_HEAT-.5], [4.5,-.5], None,
              dict(side="right", showticklabels=True, tickvals=list(range(5)), ticktext=GENES, tickfont=dict(size=6, color="#333", family=SANS), ticklen=0))
RYB = ["#313695","#4575B4","#74ADD1","#ABD9E9","#E0F3F8","#FFFFBF","#FEE090","#FDAE61","#F46D43","#D73027","#A50026"]
add(go.Heatmap(z=rows, colorscale=[[i/10, c] for i, c in enumerate(RYB)], zmin=-2.65, zmax=3.85,
               colorbar=dict(x=967/W, xanchor="left", y=1-347/H, yanchor="bottom", len=130/H, thickness=9, xpad=0, ypad=0, outlinewidth=0,
                             tickvals=[-2,-1,0,1,2,3], ticktext=["\u22122","\u22121","0","1","2","3"], ticks="", tickfont=dict(size=7.5, color="#333", family=SANS))), xa, ya)
trk = [[0]*N_HEAT for _ in TRACK_NAMES]
paint(trk[0], HER2_POS, 1)
trk[1] = [1]*N_HEAT; paint(trk[1], PR_NEG, 0)
trk[2] = [1]*N_HEAT; paint(trk[2], ER_NEG, 0)
trk[3] = [2]*N_HEAT; paint(trk[3], GROUP_C1, 3)
trk[4] = [2 if c < RISK_SPLIT else 4 for c in range(N_HEAT)]
TRACK_COLORS = ["#A3133A","#313695","#FF0000","#0000FF","#00FF00"]
def discrete(cols):
    n = len(cols); out = []
    for i, c in enumerate(cols):
        out += [[i/n, c], [(i+1)/n, c]]
    return out
xa, ya = axes(616, 218, 920, 269, [-.5,N_HEAT-.5], [4.5,-.5], None,
              dict(side="right", showticklabels=True, tickvals=list(range(5)), ticktext=TRACK_NAMES,
                   tickfont=dict(size=7.5, color="#222", family=SANS, weight=700), ticklen=0))
add(go.Heatmap(z=trk, colorscale=discrete(TRACK_COLORS), zmin=-.5, zmax=4.5, showscale=False, ygap=1.5), xa, ya)
for title, ty, labs, cols in [("her2_status",221,["Negative","Positive"],["#A3133A","#313695"]),
                              ("pr_status",264,["Negative","Positive"],["#A3133A","#313695"]),
                              ("er_status",307,["Negative","Positive"],["#A3133A","#313695"]),
                              ("groups",351,["Cluster2","Cluster1"],["#FF0000","#0000FF"]),
                              ("riskScore",394,["Low_risk","High_risk"],["#FF0000","#00FF00"])]:
    T(992, ty, title, 7, "#222", weight=700)
    for i in range(2):
        rect(993, ty+6+i*12.5, 1003, ty+6+(i+1)*12.5, cols[i])
        T(1005, ty+12.5+i*12.5, labs[i], 7.3, "#333")

# ---------- panel C bars
SMALL = dict(size=4.4, color="#444", family=SANS)
TITLE_C = 6.3
def xaxis_bottom(tickvals, ticktext):
    return dict(showline=True, linecolor="#999", linewidth=1, showgrid=True, gridcolor="#F2F2F2", gridwidth=.5, ticks="outside", ticklen=2,
                tickwidth=.5, tickcolor="#777", showticklabels=True, tickvals=tickvals, ticktext=ticktext, tickangle=-90, tickfont=SMALL)
def yaxis_cat(names, size=5.8):
    return dict(showticklabels=True, tickvals=list(range(len(names))), ticktext=names, ticklen=3, ticks="outside", tickcolor="rgba(0,0,0,0)",
                tickfont=dict(size=size, color="#444", family=SANS, style="italic"), showgrid=True, gridcolor="#F4F4F4", gridwidth=.5)
def hbar(xa, ya, vals, cols, width):
    add(go.Bar(y=list(range(len(vals))), x=vals, orientation="h", marker=dict(color=cols, line=dict(color="rgba(255,255,255,.7)", width=.5)), width=width), xa, ya)

T(113, 706, "Variant Classification", TITLE_C, "#333", weight=700)
xa, ya = axes(113, 720, 413, 892, [0,60000], [8.7,-.42], xaxis_bottom([0,10000,20000,30000,40000,50000,60000], ["0","10000","20000","30000","40000","50000","60000"]), yaxis_cat(VC_NAMES))
hbar(xa, ya, VC_VALUES, VC_COLORS, .83)
T(443, 706, "Variant Type", TITLE_C, "#333", weight=700)
xa, ya = axes(443, 720, 663, 892, [0,70000], [3.556,-.415], xaxis_bottom([i*10000 for i in range(8)], [str(i*10000) for i in range(8)]), yaxis_cat(VT_NAMES))
hbar(xa, ya, VT_VALUES, VT_COLORS, .83)
T(694, 706, "SNV Class", TITLE_C, "#333", weight=700)
xa, ya = axes(694, 720, 914, 892, [0,1], [5.59,-.42], xaxis_bottom([0,.25,.5,.75,1], ["0.00","0.25","0.50","0.75","1.00"]), yaxis_cat(SNV_NAMES))
hbar(xa, ya, SNV_FRACTION, SNV_COLORS, .84)
add(go.Scatter(x=[v+.03 for v in SNV_FRACTION], y=list(range(6)), mode="text", text=[str(v) for v in SNV_COUNTS], textposition="middle right", cliponaxis=False,
               textfont=dict(size=6.2, color="#333", family=SANS, weight=700, style="italic")), xa, ya)

# ---------- variants per sample
T(59, 912, "Variants per sample", TITLE_C, "#333", weight=700)
T(59, 918.5, "Median: 34", 4.2, "#333", weight=700)
xa, ya = axes(60, 924, 400, 1072, [-20,1010], [0,4782], None,
              dict(showline=True, linecolor="#888", linewidth=1.5, ticks="outside", ticklen=3, tickwidth=.5, showticklabels=True,
                   tickvals=[0,1594,3188,4782], ticktext=["0","1594","3188","4782"], tickfont=dict(size=6, color="#444", family=SANS, style="italic")))
add(go.Scatter(x=SAMPLE_RANK, y=SAMPLE_TOTAL, mode="lines", fill="tozeroy", fillcolor="rgba(230,130,120,.45)", line=dict(width=.4, color="rgba(230,110,100,.45)", shape="hv")), xa, ya)
add(go.Scatter(x=SAMPLE_RANK, y=SAMPLE_MISSENSE, mode="lines", fill="tozeroy", fillcolor="#4CAF50", line=dict(width=.4, color="#4CAF50", shape="hv")), xa, ya)
add(go.Scatter(x=[1,968], y=[5,5], mode="lines", line=dict(width=1, color="#E89A90", dash="dot")), xa, ya)

# ---------- summary boxes
T(435, 912, "Variant Classification", TITLE_C, "#333", weight=700)
T(435, 918.5, "summary", TITLE_C, "#333", weight=700)
xa, ya = axes(435, 925, 656, 1072, [.14,9.62], [-3,106.8], dict(showgrid=True, gridcolor="#F4F4F4", gridwidth=.5, tickvals=list(range(1,10))),
              dict(showline=True, linecolor="#666", linewidth=1, ticks="outside", ticklen=3, tickwidth=.5, showticklabels=True, showgrid=True, gridcolor="#F4F4F4", gridwidth=.5,
                   tickvals=[0,34,68,103], ticktext=["0","34","68","103"], tickfont=dict(size=6, color="#444", family=SANS, style="italic")))
for i in range(9):
    fill = "#D2D2D2" if i == 0 else alpha(SUMMARY_COLORS[i], .55)
    box(xa, ya, i+1, SUMMARY_Q1[i], SUMMARY_MED[i], SUMMARY_Q3[i], SUMMARY_LOW[i], SUMMARY_HIGH[i], .82, fill, SUMMARY_COLORS[i], lw=1.1)

# ---------- top 10
T(702, 914, "Top 10", TITLE_C, "#333", weight=700)
T(702, 920.5, "mutated genes", TITLE_C, "#333", weight=700)
xa, ya = axes(702, 928, 886, 1073, [0,291], [9.8,-.55],
              dict(showline=True, linecolor="#777", linewidth=1, ticks="outside", ticklen=2, tickwidth=.5, showticklabels=True, tickvals=[0,97,194,291], ticktext=["0","97","194","291"], tickangle=-90, tickfont=SMALL),
              dict(showticklabels=True, tickvals=list(range(10)), ticktext=TOP_GENES, ticklen=3, ticks="outside", tickcolor="rgba(0,0,0,0)", tickfont=dict(size=6, color="#444", family=SANS, style="italic")))
for vals, k in [(TOP_G,"G"),(TOP_B,"B"),(TOP_R,"R"),(TOP_P,"P"),(TOP_O,"O"),(TOP_Y,"Y")]:
    add(go.Bar(y=list(range(10)), x=vals, orientation="h", marker=dict(color=CLASS_COLORS[k], line=dict(width=0)), width=.83), xa, ya)
top_tot = [sum(v) for v in zip(TOP_G,TOP_B,TOP_R,TOP_P,TOP_O,TOP_Y)]
add(go.Scatter(x=[v+1 for v in top_tot], y=list(range(10)), mode="text", text=TOP_PCT, textposition="middle right", cliponaxis=False,
               textfont=dict(size=5.4, color="#333", family=SANS, weight=700, style="italic")), xa, ya)

# ---------- oncoplot
T(297, 1093, "Altered in 583 (60.23%) of 968 samples.", 9.7, "#333", "center", weight=700)
xa, ya = axes(50, 1094, 477, 1143, [-.5,ONCO_TOTAL_COLS-.5], [0,1135], None,
              dict(showline=True, linecolor="#999", linewidth=.7, ticks="outside", ticklen=2, tickwidth=.5, showticklabels=True, tickvals=[0,1135], ticktext=["0","1135"], tickfont=dict(size=3.8, color="#444", family=SANS)))
add(go.Bar(x=[i*6+2 for i in range(len(TMB_BASE))], y=TMB_BASE, width=5, marker=dict(color="rgba(60,160,60,.9)", line=dict(width=0))), xa, ya)
add(go.Bar(x=TMB_SPIKE_COL, y=TMB_SPIKE_VAL, width=1.8, marker=dict(color="rgba(95,180,95,.55)", line=dict(width=0))), xa, ya)
add(go.Scatter(x=TMB_SPIKE_COL, y=TMB_SPIKE_VAL, mode="markers", marker=dict(symbol="line-ew", size=2, color="#E88", line=dict(color="#E88", width=.8))), xa, ya)
T(37, 1119, "TMB", 3.6, "#333", "center", angle=-90)
onco = []
for runs in ONCO_ROWS:
    row = [0]*ONCO_TOTAL_COLS
    for start, s in runs:
        for k, ch in enumerate(s):
            if start+k < ONCO_TOTAL_COLS:
                row[start+k] = ONCO_CODES.index(ch)
    onco.append(row)
xa, ya = axes(50, 1146, 477, 1333, [-.5,ONCO_TOTAL_COLS-.5], [19.5,-.5], None,
              dict(showticklabels=True, tickvals=list(range(20)), ticktext=ONCO_GENES, ticklen=2, ticks="outside", tickcolor="rgba(0,0,0,0)", tickfont=dict(size=4.6, color="#444", family=SANS, style="italic")))
add(go.Heatmap(z=onco, colorscale=discrete(ONCO_COLORS), zmin=-.5, zmax=len(ONCO_COLORS)-.5, showscale=False), xa, ya)
xa, ya = axes(50, 1334, 477, 1350, [-.5,ONCO_TOTAL_COLS-.5], [-.5,.5])
add(go.Heatmap(z=[[0 if c < ONCO_RISK_SPLIT else 1 for c in range(ONCO_TOTAL_COLS)]], colorscale=discrete(["#FF0000","#0000FF"]), zmin=-.5, zmax=1.5, showscale=False), xa, ya)
T(480, 1342, "risk", 3.8, "#444")
xa, ya = axes(492, 1146, 604, 1333, [0,229], [19.5,-.5],
              dict(showticklabels=True, side="top", tickvals=[0,229], ticktext=["0","229"], tickfont=dict(size=3.8, color="#444", family=SANS), ticks="outside", ticklen=2, tickcolor="rgba(0,0,0,0)", showline=False),
              dict(showticklabels=True, tickvals=list(range(20)), ticktext=ONCO_PCT, ticklen=1, ticks="outside", tickcolor="rgba(0,0,0,0)", tickfont=dict(size=4.6, color="#444", family=SANS)))
for vals, k in [(SIDE_G,"G"),(SIDE_P,"P"),(SIDE_R,"R"),(SIDE_B,"B"),(SIDE_O,"O"),(SIDE_Y,"Y"),(SIDE_K,"K")]:
    add(go.Bar(y=list(range(20)), x=vals, orientation="h", marker=dict(color=CLASS_COLORS[k], line=dict(width=0)), width=.9), xa, ya)
T(548, 1139, "No. of samples", 3.2, "#444", "center")
shapes.append(dict(type="line", xref="paper", yref="paper", x0=492/W, x1=604/W, y0=1-1142/H, y1=1-1142/H, line=dict(color="#666", width=.6)))
for col, entries in [(30, [("Missense_Mutation","#33A02C"),("Frame_Shift_Ins","#6A3D9A"),("Nonsense_Mutation","#E31A1C"),("Frame_Shift_Del","#1F78B4")]),
                     (89, [("Splice_Site","#FF7F00"),("In_Frame_Del","#FFFF99"),("In_Frame_Ins","#E78A9A"),("Multi_Hit","#000000")])]:
    for i, (lab, c) in enumerate(entries):
        yy = 1356+i*5
        shapes.append(dict(type="circle", xref="paper", yref="paper", x0=(col-1)/W, x1=(col+1)/W, y0=1-(yy+1)/H, y1=1-(yy-1)/H, fillcolor=c, line=dict(width=0)))
        T(col+5, yy, lab, 5, "#444")
T(166, 1356, "risk", 4.6, "#444")
for i, (lab, c) in enumerate([("High_risk","#FF0000"),("Low_risk","#0000FF")]):
    yy = 1363+i*5
    shapes.append(dict(type="circle", xref="paper", yref="paper", x0=169/W, x1=171/W, y0=1-(yy+1)/H, y1=1-(yy-1)/H, fillcolor=c, line=dict(width=0)))
    T(175, yy, lab, 5, "#444")

# ---------- panel D box
serif_tick = dict(size=11, color="#333", family=SERIF)
xa, ya = axes(563, 1258, 714, 1399, [-1.23,1.38], [-.42,7],
              dict(showline=True, mirror=True, linecolor="#333", linewidth=1, ticks="outside", ticklen=4, tickcolor="#333", showticklabels=True, tickvals=[0], ticktext=["TMB"], tickfont=serif_tick, showgrid=True, gridcolor="#E8E8E8", gridwidth=.7),
              dict(showline=True, mirror=True, linecolor="#333", linewidth=1, ticks="outside", ticklen=4, tickcolor="#333", showticklabels=True, tickvals=[0,2,4,6], tickfont=serif_tick, showgrid=True, gridcolor="#E8E8E8", gridwidth=.7))
for pos, i, c in [(-.5,0,"#F0A59B"),(.5,1,"#7FB8DC")]:
    box(xa, ya, pos, BOX_D_Q1[i], BOX_D_MED[i], BOX_D_Q3[i], BOX_D_LOW[i], BOX_D_HIGH[i], .81, c, "#444444", lw=1.1, whisk=.5)
T(639, 1269, "****", 8, "#333", "center", weight=700)
T(541, 1327, "Score", 10.5, "#333", "center", font=SERIF, angle=-90)
T(722, 1264, "risk", 11, "#333", font=SERIF)
for yy, lab, c in [(1281,"High_risk","#E64B35"),(1300,"Low_risk","#0072B5")]:
    shapes.append(dict(type="circle", xref="paper", yref="paper", x0=722/W, x1=732/W, y0=1-(yy+5.5)/H, y1=1-(yy-5.5)/H, fillcolor=c, line=dict(width=0)))
    T(735, yy+3, lab, 10.3, "#333", font=SERIF)

# ---------- panel D scatter
xa, ya = axes(809, 1243, 1000, 1407, [-1.6,2.76], [-1,24],
              dict(showline=True, mirror=True, linecolor="#CFCFCF", linewidth=1.2, showgrid=True, gridcolor="#EAEAEA", gridwidth=.7, showticklabels=True, tickvals=[-1,0,1,2], ticktext=["\u22121","0","1","2"], tickfont=dict(size=7, color="#888", family=SANS), ticks="", ticklen=0,
                   minor=dict(tickvals=[-.5,.5,1.5,2.5], showgrid=True, gridcolor="#F3F3F3")),
              dict(showline=True, mirror=True, linecolor="#CFCFCF", linewidth=1.2, showgrid=True, gridcolor="#EAEAEA", gridwidth=.7, showticklabels=True, tickvals=[0,5,10,15,20], tickfont=dict(size=7, color="#666", family=SANS), ticks="outside", ticklen=2, tickcolor="#888",
                   minor=dict(tickvals=[2.5,7.5,12.5,17.5,22.5], showgrid=True, gridcolor="#F3F3F3")))
pts = SCATTER_HIGH + SCATTER_CLOUD + SCATTER_DENSE
add(go.Scatter(x=[p[0] for p in pts], y=[p[1] for p in pts], mode="markers", marker=dict(size=4.4, color="#0A0A0A")), xa, ya)
fx = [FIT_X[0], (FIT_X[0]+FIT_X[1])/2, FIT_X[1]]
fy = [FIT_Y[0], (FIT_Y[0]+FIT_Y[1])/2, FIT_Y[1]]
up = [v+b for v, b in zip(fy, FIT_BAND)]; dn = [v-b for v, b in zip(fy, FIT_BAND)]
add(go.Scatter(x=fx+fx[::-1], y=up+dn[::-1], mode="lines", fill="toself", fillcolor="rgba(150,150,150,.45)", line=dict(width=0)), xa, ya)
add(go.Scatter(x=FIT_X, y=FIT_Y, mode="lines", line=dict(color="#3366FF", width=1.8)), xa, ya)
T(997, 1257, "<i>R</i> = 0.19, <i>p</i> = 6.3e\u221207", 9.4, "#333", "right")
T(786, 1317, "TMB", 8, "#333", "center", angle=-90)
T(903, 1423, "riskScore", 8, "#333", "center")
xa, ya = axes(809, 1212, 1000, 1243, [-1.6,2.76], [0,100])
add(go.Scatter(x=TOP_DENS_X, y=TOP_DENS_Y, mode="lines", fill="tozeroy", fillcolor="#2F66F5", line=dict(color="#222", width=.7, shape="spline")), xa, ya)
xa, ya = axes(1001, 1243, 1040, 1407, [0,110], [-1,24])
add(go.Scatter(x=RIGHT_DENS_X, y=RIGHT_DENS_Y, mode="lines", fill="tozerox", fillcolor="#F9A11B", line=dict(color="#222", width=.7)), xa, ya)

# ---------- watermark
shapes.append(dict(type="circle", xref="paper", yref="paper", x0=735/W, x1=761/W, y0=1-1423/H, y1=1-1398/H, fillcolor="#ABABAB", line=dict(width=0)))
shapes.append(dict(type="circle", xref="paper", yref="paper", x0=750/W, x1=775/W, y0=1-1431/H, y1=1-1407/H, fillcolor="#ABABAB", line=dict(color="white", width=1.5)))
T(783, 1414, "\u516c\u4f17\u53f7\u00b7 \u5b66R\u65f6\u4e60\u4e4b", 30, "rgba(165,165,165,.85)", font=CJK)

fig = go.Figure(data=traces)
fig.update_layout(width=W, height=H, autosize=False, margin=dict(l=0, r=0, t=0, b=0, pad=0), paper_bgcolor="white", plot_bgcolor="rgba(0,0,0,0)",
                  template="none", showlegend=False, barmode="stack", boxmode="overlay", shapes=shapes, annotations=annotations, font=dict(family=SANS), **layout)
fig.write_html("out.html", post_script="document.body.style.margin='0';document.documentElement.style.overflow='hidden';",
               config=dict(displayModeBar=False, staticPlot=True))
